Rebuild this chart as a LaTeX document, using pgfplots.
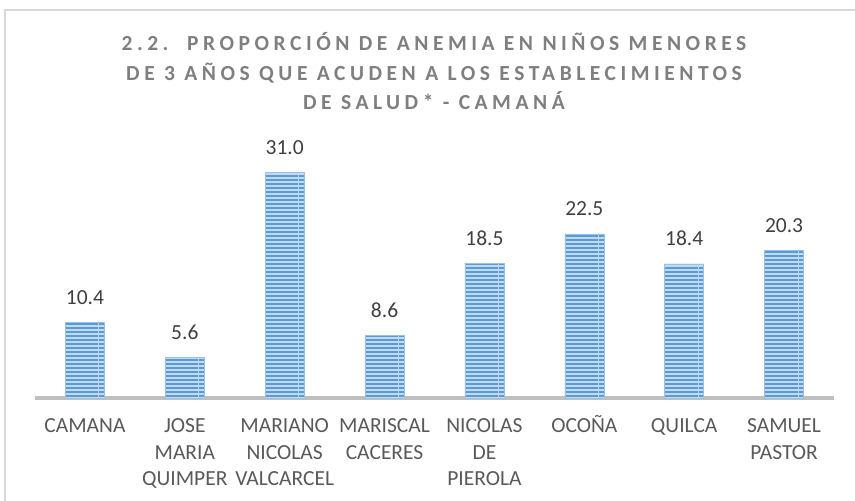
\documentclass[border=0pt]{standalone}
\usepackage{pgfplots}
\pgfplotsset{compat=1.18}
\usepackage{fontspec}
\setmainfont{Carlito}
\newfontfamily\titlefont[LetterSpace=21]{Carlito}
\usetikzlibrary{patterns}
\definecolor{barblue}{HTML}{5B9BD5}
\definecolor{barlight}{HTML}{C2DAF0}
\definecolor{titlegray}{HTML}{7F7F7F}
\definecolor{labgray}{HTML}{595959}
\definecolor{valgray}{HTML}{404040}
\definecolor{axgray}{HTML}{BFBFBF}
\definecolor{framegray}{HTML}{D9D9D9}
\pgfdeclarepatternformonly{hstripes}{\pgfqpoint{0pt}{0pt}}{\pgfqpoint{100pt}{4pt}}{\pgfqpoint{100pt}{4pt}}{%
  \pgfpathrectangle{\pgfqpoint{0pt}{0pt}}{\pgfqpoint{100pt}{2.3pt}}\pgfusepath{fill}}
\newcommand{\fl}{\vphantom{Ñ}}
\begin{document}
\begin{tikzpicture}
\path[use as bounding box] (0,0) rectangle (855pt,501pt);
\draw[framegray, line width=1.5pt] (5pt,0pt) -- (5pt,491pt) -- (856pt,491pt);
\node[anchor=base, text=titlegray, font=\titlefont\bfseries\fontsize{21.5}{24}\selectfont] at (434pt,450pt) {2.2.~~PROPORCIÓN DE ANEMIA EN NIÑOS MENORES};
\node[anchor=base, text=titlegray, font=\titlefont\bfseries\fontsize{21.5}{24}\selectfont] at (434pt,420.7pt) {DE 3 AÑOS QUE ACUDEN A LOS ESTABLECIMIENTOS};
\node[anchor=base, text=titlegray, font=\titlefont\bfseries\fontsize{21.5}{24}\selectfont] at (434pt,391.4pt) {DE SALUD* - CAMANÁ};
\begin{axis}[
  at={(35pt,103pt)}, anchor=south west,
  scale only axis, width=799pt, height=255.15pt,
  xmin=-0.5, xmax=7.5, ymin=0, ymax=35,
  axis x line*=bottom, hide y axis,
  x axis line style={-, draw=axgray, line width=3.5pt},
  xtick=data, major tick length=0pt,
  xticklabels={\fl CAMANA, {\fl JOSE\\MARIA\\QUIMPER}, {\fl MARIANO\\NICOLAS\\VALCARCEL}, {\fl MARISCAL\\CACERES}, {\fl NICOLAS\\DE\\PIEROLA}, \fl OCOÑA, \fl QUILCA, {\fl SAMUEL\\PASTOR}},
  xticklabel style={align=center, text=labgray, font=\fontsize{21.5}{26.5}\selectfont, anchor=north, yshift=-14pt},
  ybar, bar width=39pt,
  nodes near coords,
  /pgf/number format/assume math mode=true,
  /pgf/number format/.cd, fixed, fixed zerofill, precision=1, /pgfplots/.cd,
  every node near coord/.append style={text=valgray, font=\fontsize{21.5}{25}\selectfont, inner sep=0pt, yshift=18pt, anchor=base},
  clip=false,
]
\addplot[draw=barlight!60!barblue, line width=0.5pt, fill=barlight, postaction={pattern=hstripes, pattern color=barblue}]
  coordinates {(0,10.4) (1,5.6) (2,31.0) (3,8.6) (4,18.5) (5,22.5) (6,18.4) (7,20.3)};
\end{axis}
\end{tikzpicture}
\end{document}
